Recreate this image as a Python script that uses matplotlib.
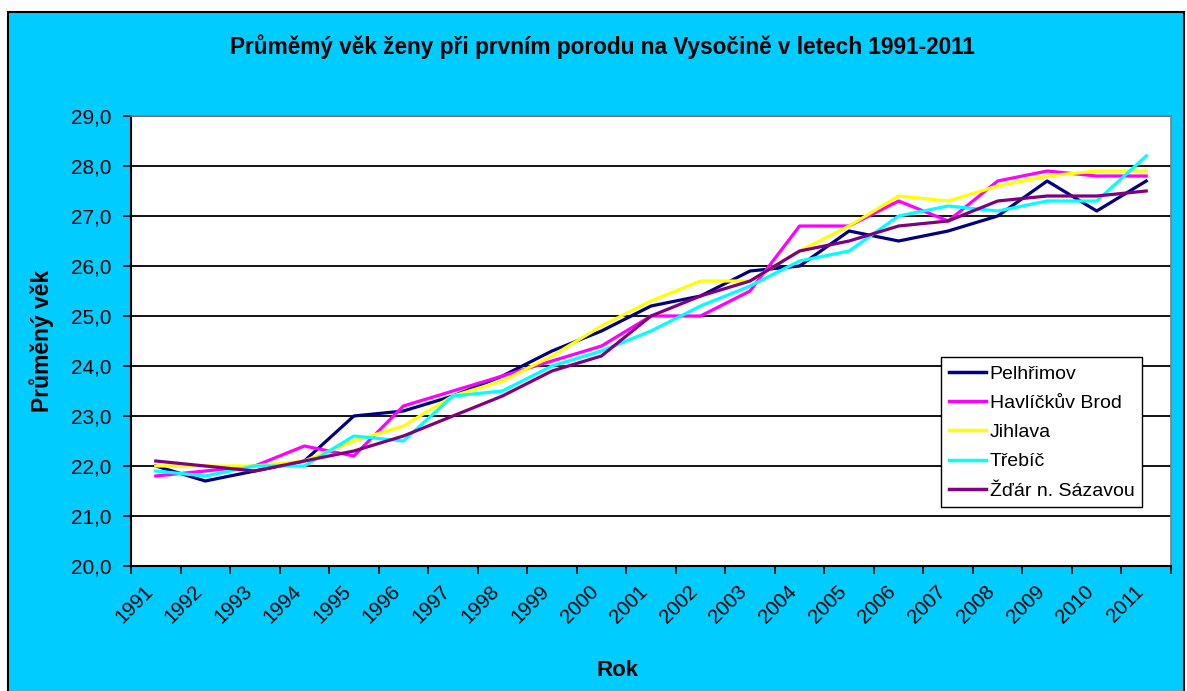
# =========================================================
# Prumerny vek zeny pri prvnim porodu - Vysocina 1991-2011
# =========================================================

import numpy as np
import matplotlib
matplotlib.use("Agg")
import matplotlib.pyplot as plt
from matplotlib.patches import Rectangle
from matplotlib.ticker import FixedLocator


# =========================================================
# DATA
# =========================================================
years = [str(y) for y in range(1991, 2012)]

pelhrimov = [22.0, 21.7, 21.9, 22.1, 23.0, 23.1, 23.4, 23.8, 24.3, 24.7, 25.2,
             25.4, 25.9, 26.0, 26.7, 26.5, 26.7, 27.0, 27.7, 27.1, 27.7]
havlickuv_brod = [21.8, 21.9, 22.0, 22.4, 22.2, 23.2, 23.5, 23.8, 24.1, 24.4, 25.0,
                  25.0, 25.5, 26.8, 26.8, 27.3, 26.9, 27.7, 27.9, 27.8, 27.8]
jihlava = [22.0, 22.0, 22.0, 22.1, 22.5, 22.8, 23.4, 23.7, 24.2, 24.8, 25.3,
           25.7, 25.7, 26.3, 26.8, 27.4, 27.3, 27.6, 27.8, 27.9, 27.9]
trebic = [21.9, 21.8, 22.0, 22.0, 22.6, 22.5, 23.4, 23.5, 24.0, 24.3, 24.7,
          25.2, 25.6, 26.1, 26.3, 27.0, 27.2, 27.1, 27.3, 27.3, 28.2]
zdar = [22.1, 22.0, 21.9, 22.1, 22.3, 22.6, 23.0, 23.4, 23.9, 24.2, 25.0,
        25.4, 25.7, 26.3, 26.5, 26.8, 26.9, 27.3, 27.4, 27.4, 27.5]

series_names = ["Pelhřimov", "Havlíčkův Brod", "Jihlava", "Třebíč", "Žďár n. Sázavou"]
series_values = [pelhrimov, havlickuv_brod, jihlava, trebic, zdar]
series_colors = ["#000080", "#FF00FF", "#FFFF00", "#00FFFF", "#800080"]

y_ticks = [20, 21, 22, 23, 24, 25, 26, 27, 28, 29]


# =========================================================
# FIGURE
# =========================================================
plt.rcParams["font.family"] = ["Liberation Sans", "DejaVu Sans"]

W, H = 1187, 691
fig = plt.figure(figsize=(W / 100, H / 100), dpi=100)
fig.patch.set_facecolor("white")

# cyan chart area with black border
fig.patches.append(Rectangle((8 / W, -0.02), (1184 - 8) / W, (H - 12) / H + 0.02,
                             transform=fig.transFigure, facecolor="#00CCFF",
                             edgecolor="black", linewidth=1.5, zorder=-5))

ax = fig.add_axes([131 / W, 1 - 566 / H, (1171 - 131) / W, (566 - 116) / H])
ax.set_facecolor("white")

x = np.arange(len(years)) + 0.5
for name, vals, col in zip(series_names, series_values, series_colors):
    ax.plot(x, vals, color=col, linewidth=2.3, label=name)

ax.set_xlim(0, len(years))
ax.set_ylim(20, 29)

# y axis
ax.set_yticks(y_ticks)
ax.set_yticklabels([f"{v:.1f}".replace(".", ",") for v in y_ticks], fontsize=15)
ax.yaxis.grid(True, color="black", linewidth=1.3)
ax.set_axisbelow(True)
ax.tick_params(axis="y", direction="out", length=6, width=1.2, pad=8)

# x axis: ticks on category borders, labels in the middle (slightly left)
ax.xaxis.set_major_locator(FixedLocator(np.arange(len(years) + 1)))
ax.xaxis.set_minor_locator(FixedLocator(x - 0.12))
ax.set_xticklabels([], minor=False)
ax.set_xticklabels(years, minor=True, rotation=45, ha="right", va="center",
                   rotation_mode="anchor", fontsize=14.5)
ax.tick_params(axis="x", which="major", direction="out", length=6, width=1.2)
ax.tick_params(axis="x", which="minor", length=0, pad=16)

for side in ["left", "bottom"]:
    ax.spines[side].set_color("black")
    ax.spines[side].set_linewidth(1.5)
for side in ["top", "right"]:
    ax.spines[side].set_color("#808080")
    ax.spines[side].set_linewidth(1.2)

# titles
fig.text(602 / W, 1 - 47 / H, "Průměmý věk ženy při prvním porodu na Vysočině v letech 1991-2011",
         ha="center", va="center", fontsize=16.3, fontweight="bold")
fig.text(42 / W, 1 - 341 / H, "Průměný věk", ha="center", va="center",
         rotation=90, fontsize=16.5, fontweight="bold")
fig.text(618 / W, 1 - 670 / H, "Rok", ha="center", va="center",
         fontsize=16, fontweight="bold")

# legend
leg = ax.legend(loc="upper left", bbox_to_anchor=(0.779, 0.464), fontsize=14,
                frameon=True, fancybox=False, framealpha=1, edgecolor="black",
                borderaxespad=0, handlelength=1.9, handletextpad=0.2,
                labelspacing=0.6, borderpad=0.4)
leg.get_frame().set_linewidth(1.0)
for line in leg.get_lines():
    line.set_linewidth(2.5)

plt.savefig("out.png", dpi=100)
plt.close()
print("Saved chart: out.png")
